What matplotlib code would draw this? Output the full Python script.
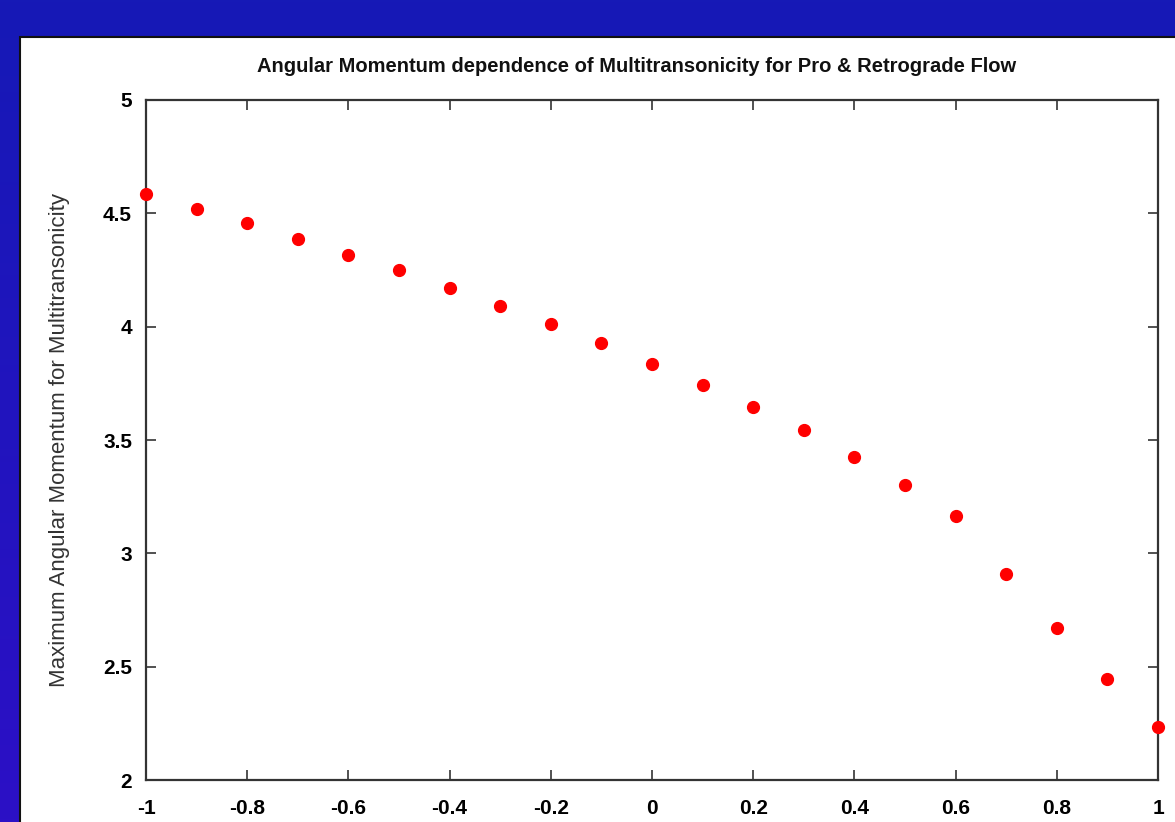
import numpy as np
import matplotlib
matplotlib.use('Agg')
import matplotlib.pyplot as plt
import matplotlib.patches as mpatches

# spin parameter a vs maximum angular momentum
spin = [-1.0, -0.9, -0.8, -0.7, -0.6, -0.5, -0.4, -0.3, -0.2, -0.1, 0.0,
        0.1, 0.2, 0.3, 0.4, 0.5, 0.6, 0.7, 0.8, 0.9, 1.0]
lmax = [4.585, 4.52, 4.457, 4.387, 4.316, 4.25, 4.171, 4.09, 4.01, 3.928, 3.835,
        3.743, 3.646, 3.544, 3.425, 3.30, 3.165, 2.909, 2.67, 2.446, 2.234]
xticks = [-1, -0.8, -0.6, -0.4, -0.2, 0, 0.2, 0.4, 0.6, 0.8, 1]
xticklabels = ['-1', '-0.8', '-0.6', '-0.4', '-0.2', '0', '0.2', '0.4', '0.6', '0.8', '1']
yticks = [2, 2.5, 3, 3.5, 4, 4.5, 5]
yticklabels = ['2', '2.5', '3', '3.5', '4', '4.5', '5']

plt.rcParams['font.family'] = ['Liberation Sans', 'DejaVu Sans']

fig = plt.figure(figsize=(11.75, 8.22), dpi=100)

# blue slide background, slight gradient towards violet at the bottom
bg = fig.add_axes([0, 0, 1, 1], zorder=-10)
grad = np.linspace(0, 1, 256).reshape(-1, 1)
top = np.array([0x16, 0x19, 0xb6]) / 255.0
bot = np.array([0x2c, 0x10, 0xc6]) / 255.0
img = top[None, None, :] * (1 - grad[:, :, None]) + bot[None, None, :] * grad[:, :, None]
bg.imshow(img, aspect='auto', extent=[0, 1, 0, 1], origin='upper')
bg.axis('off')

# white panel
panel = mpatches.Rectangle((20 / 1175, -0.05), 1.1, 1 - 37 / 822 + 0.05,
                           transform=fig.transFigure, facecolor='white',
                           edgecolor='#111111', linewidth=1.5, zorder=-5)
fig.patches.append(panel)

ax = fig.add_axes([146 / 1175, 1 - 780 / 822, (1158 - 146) / 1175, (780 - 100) / 822])
ax.patch.set_alpha(0)
ax.plot(spin, lmax, 'o', color='#ff0000', markersize=8.5, clip_on=False, zorder=5)

ax.set_xlim(-1, 1)
ax.set_ylim(2, 5)
ax.set_xticks(xticks)
ax.set_xticklabels(xticklabels)
ax.set_yticks(yticks)
ax.set_yticklabels(yticklabels)
ax.tick_params(direction='in', length=7, width=1.2, color='#333333',
               top=True, right=True, labelsize=15)
ax.tick_params(axis='x', pad=14)
ax.tick_params(axis='y', pad=10)
for lbl in ax.get_xticklabels() + ax.get_yticklabels():
    lbl.set_fontweight('bold')
for sp in ax.spines.values():
    sp.set_linewidth(1.6)
    sp.set_color('#333333')

ax.set_ylabel('Maximum Angular Momentum for Multitransonicity', fontsize=16,
              color='#333333', labelpad=24)
fig.text(637 / 1175, 1 - 66 / 822,
         'Angular Momentum dependence of Multitransonicity for Pro & Retrograde Flow',
         ha='center', va='center', fontsize=14.5, fontweight='bold', color='#111111')

fig.savefig('out.png', dpi=100)
